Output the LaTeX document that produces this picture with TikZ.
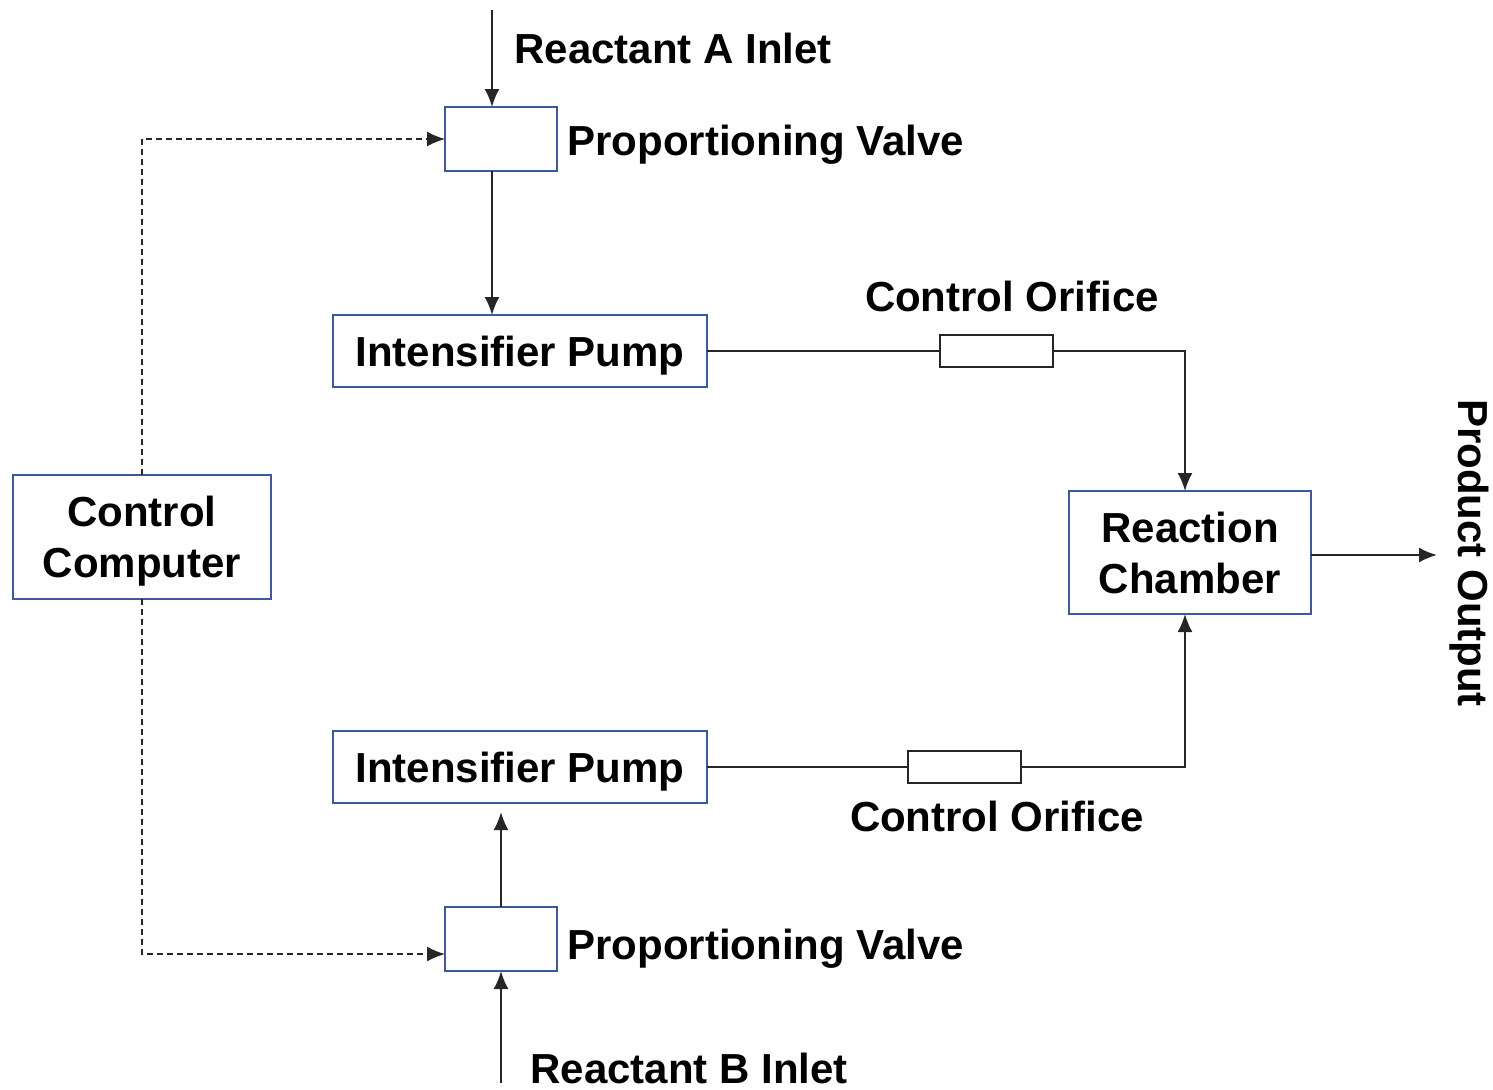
\documentclass[tikz,border=0pt]{standalone}
\usepackage{fontspec}
\setmainfont{Liberation Sans}
\usetikzlibrary{arrows.meta,calc}
\definecolor{boxblue}{HTML}{3F5A9A}
\definecolor{linegray}{HTML}{262626}
\tikzset{
  blk/.style={draw=boxblue, line width=1pt, fill=white, inner sep=0pt, outer sep=0pt, align=center,
    font=\fontsize{21}{25.5}\selectfont\bfseries},
  orif/.style={draw=linegray, line width=1pt, fill=white, inner sep=0pt, outer sep=0pt,
    minimum width=56.5pt, minimum height=16pt},
  lbl/.style={inner sep=0pt, font=\fontsize{21}{25.5}\selectfont\bfseries},
  flow/.style={draw=linegray, line width=1pt},
  arr/.style={flow, -{Latex[length=9pt,width=7.5pt]}},
  ctrl/.style={draw=linegray, line width=0.8pt, dash pattern=on 3pt off 2pt, -{Latex[length=9pt,width=7.5pt]}}
}
\begin{document}
\begin{tikzpicture}[x=0.5pt,y=-0.5pt]
\useasboundingbox (0,0) rectangle (1493,1089);
% boxes
\node[blk, minimum width=56pt, minimum height=32pt] (vA) at (501,139) {};
\node[blk, minimum width=187pt, minimum height=36pt, text depth=0pt] (pA) at (520,351) {Intensifier Pump};
\node[orif] (oA) at (996.5,351) {};
\node[blk, minimum width=121pt, minimum height=61.5pt] (rc) at (1190,552.5) {Reaction\\Chamber};
\node[blk, minimum width=129pt, minimum height=62pt, text depth=0pt] (cc) at (142,537) {Control\\Computer};
\node[blk, minimum width=187pt, minimum height=36pt, text depth=0pt] (pB) at (520,767) {Intensifier Pump};
\node[orif] (oB) at (964.5,767) {};
\node[blk, minimum width=56pt, minimum height=32pt] (vB) at (501,939) {};
% labels
\node[lbl, anchor=base west] (tA) at (514,63) {Reactant A Inlet};
\node[lbl, anchor=base west] (lvA) at (567,155) {Proportioning Valve};
\node[lbl, anchor=base] (loA) at (1012,311) {Control Orifice};
\node[lbl, anchor=base] (loB) at (997,831) {Control Orifice};
\node[lbl, anchor=base west] (lvB) at (567,959) {Proportioning Valve};
\node[lbl, anchor=base west] (tB) at (530,1083) {Reactant B Inlet};
\node[lbl, rotate=-90] (po) at (1469,553) {Product Output};
% coordinates
\coordinate (inA) at (492,10);
\coordinate (inB) at (501,1083);
\coordinate (jA) at (1185,351);
\coordinate (jB) at (1185,767);
\coordinate (out) at (1437,555);
\coordinate (dB) at (142,954);
% flow connectors
\draw[arr] (inA) -- (inA |- vA.north);
\draw[arr] (vA.south -| inA) -- (pA.north -| inA);
\draw[flow] (pA.east) -- (oA.west);
\draw[arr] (oA.east) -- (jA) -- (jA |- rc.north);
\draw[flow] (pB.east) -- (oB.west);
\draw[arr] (oB.east) -- (jB) -- (jB |- rc.south);
\draw[arr] (rc.east |- out) -- (out);
\draw[arr] (inB) -- (vB.south);
\draw[arr] (vB.north) -- ($(vB.north |- pB.south)+(0,9)$);
% control lines
\draw[ctrl] (cc.north) |- (vA.west);
\draw[ctrl] (cc.south) -- (dB) -- (dB -| vB.west);
\end{tikzpicture}
\end{document}
